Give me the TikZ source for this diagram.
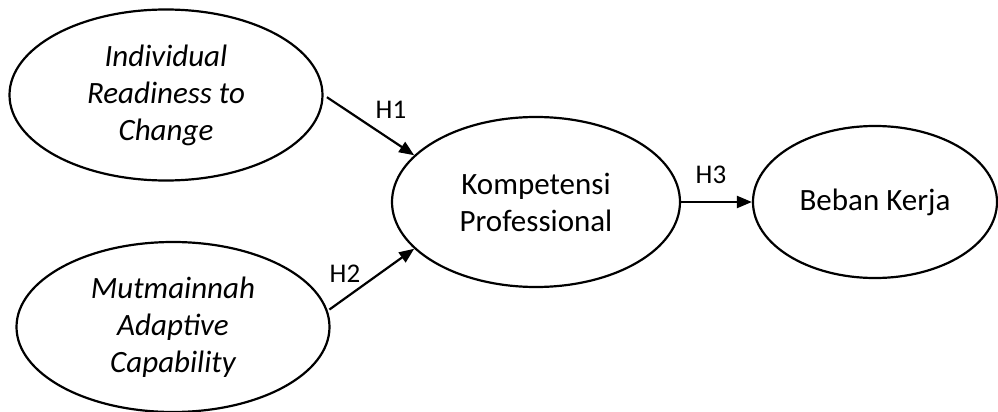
\documentclass[tikz,border=0pt]{standalone}
\usepackage{fontspec}
\setmainfont{Carlito}
\usetikzlibrary{arrows.meta,shapes.geometric}

\begin{document}
\begin{tikzpicture}[x=0.5pt,y=-0.5pt,>={Triangle[length=7.5pt,width=6pt]},
  latent/.style={draw,ellipse,line width=1.1pt,inner sep=0pt,align=center,
    font=\fontsize{15.5}{18.5}\selectfont},
  hlabel/.style={font=\fontsize{13.5}{16}\selectfont,inner sep=0pt},
  path/.style={->,line width=1.1pt}]
\useasboundingbox (0,0) rectangle (998,412);

\node[latent,minimum width=156.5pt,minimum height=85.5pt] (irc) at (166,95) {\itshape Individual\\\itshape Readiness to\\\itshape Change};
\node[latent,minimum width=156.5pt,minimum height=85pt] (mac) at (173,327) {\itshape Mutmainnah\\\itshape Adaptive\\\itshape Capability};
\node[latent,minimum width=144pt,minimum height=85pt] (kp) at (536,202) {Kompetensi\\Professional};
\node[latent,minimum width=122pt,minimum height=76pt] (bk) at (875,202) {Beban Kerja};

\draw[path,shorten <=2pt] (irc.east) -- (kp.159);
\draw[path,shorten <=1pt] (mac.6) -- (kp.201);
\draw[path] (kp.east) -- (bk.west);

\node[hlabel] (h1) at (391,110) {H1};
\node[hlabel] (h2) at (345,274) {H2};
\node[hlabel] (h3) at (711,175) {H3};

\end{tikzpicture}
\end{document}
